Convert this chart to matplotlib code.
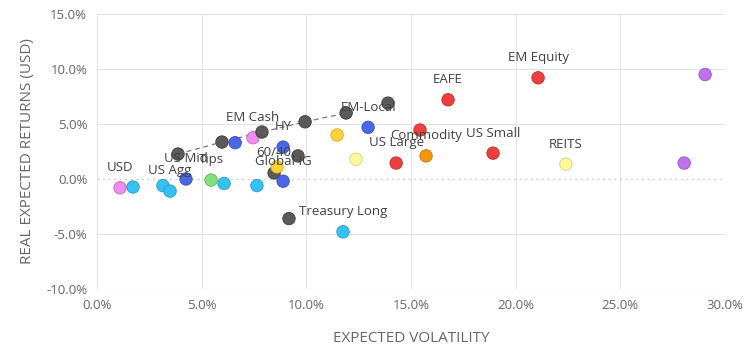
import matplotlib
matplotlib.use("Agg")
import matplotlib.pyplot as plt
from matplotlib.ticker import FuncFormatter

# ---- data (volatility %, real expected return %) ----
labels = ["USD", "", "", "US Agg", "US Mid", "", "Tips", "", "", "",
          "", "EM Cash", "", "HY", "60/40", "", "Global IG", "",
          "", "", "", "EM-Local", "", "", "US Large", "", "Treasury Long",
          "EAFE", "", "Commodity", "US Small", "EM Equity", "REITS", "", ""]
vol = [1.10, 1.72, 3.15, 3.49, 4.25, 3.87, 5.45, 6.07, 7.64, 5.97,
       6.60, 7.45, 7.88, 8.89, 8.46, 8.60, 8.89, 9.60,
       9.94, 11.90, 13.90, 12.95, 11.47, 12.37, 14.29, 9.17, 11.75,
       16.77, 15.43, 15.72, 18.92, 21.07, 22.40, 28.05, 29.05]
ret = [-0.80, -0.73, -0.60, -1.10, 0.00, 2.27, -0.10, -0.40, -0.60, 3.36,
       3.30, 3.75, 4.27, 2.90, 0.55, 1.10, -0.20, 2.10,
       5.20, 6.00, 6.90, 4.70, 4.00, 1.80, 1.45, -3.60, -4.80,
       7.20, 4.45, 2.10, 2.35, 9.20, 1.35, 1.45, 9.50]
groups = ["pink", "cyan", "cyan", "cyan", "blue", "dark", "green", "cyan", "cyan", "dark",
          "blue", "pink", "dark", "blue", "dark", "gold", "blue", "dark",
          "dark", "dark", "dark", "blue", "gold", "lightyellow", "red", "dark", "cyan",
          "red", "red", "orange", "red", "red", "lightyellow", "purple", "purple"]

# efficient frontier (dashed line)
frontier_vol = [3.87, 5.97, 7.88, 9.94, 11.90]
frontier_ret = [2.27, 3.36, 4.27, 5.20, 6.00]

x_ticks = [0, 5, 10, 15, 20, 25, 30]
y_ticks = [-10, -5, 0, 5, 10, 15]

colors = {
    "pink": ("#f28cf0", "#c46ac2"),
    "cyan": ("#35c1f1", "#2a9cc4"),
    "blue": ("#4c66e8", "#3a4fb8"),
    "dark": ("#5a5a5a", "#3c3c3c"),
    "green": ("#80e07a", "#5cb356"),
    "gold": ("#fdd23a", "#d2aa1e"),
    "lightyellow": ("#fbf99a", "#d6d47a"),
    "red": ("#ef3e3e", "#c22c2c"),
    "orange": ("#f5960f", "#c9770a"),
    "purple": ("#bf70ef", "#9a52c8"),
}

font = "Open Sans"
fig = plt.figure(figsize=(7.52, 3.51), dpi=100)
ax = fig.add_axes([97 / 752, 1 - 289 / 351, (725 - 97) / 752, (289 - 14) / 351])

ax.set_xlim(0, 30)
ax.set_ylim(-10, 15)
ax.set_xticks(x_ticks)
ax.set_yticks(y_ticks)
fmt = FuncFormatter(lambda v, p: f"{v:.1f}%")
ax.xaxis.set_major_formatter(fmt)
ax.yaxis.set_major_formatter(fmt)

for s in ax.spines.values():
    s.set_visible(False)
ax.tick_params(length=0, labelsize=9.5, labelcolor="#666666", pad=7)
for lab in ax.get_xticklabels() + ax.get_yticklabels():
    lab.set_fontfamily(font)

grid_c = "#e4e4e4"
for xv in x_ticks:
    ax.axvline(xv, color=grid_c, lw=0.8, zorder=0)
for yv in y_ticks:
    if yv == 0:
        ax.axhline(yv, color="#d0d0d0", lw=1.0, ls=(0, (1.5, 2.5)), zorder=0)
    else:
        ax.axhline(yv, color=grid_c, lw=0.8, zorder=0)

ax.plot(frontier_vol, frontier_ret, color="#7a7a7a", lw=0.9, ls=(0, (4, 3)), zorder=1)

fc = [colors[g][0] for g in groups]
ec = [colors[g][1] for g in groups]
ax.scatter(vol, ret, s=80, c=fc, edgecolors=ec, linewidths=0.6, zorder=3)

for v, r, t in zip(vol, ret, labels):
    if t:
        ax.annotate(t, (v, r), xytext=(0, 14.5), textcoords="offset points",
                    ha="center", va="center", fontsize=9.5, color="#404040",
                    family=font, zorder=4)

ax.set_xlabel("EXPECTED VOLATILITY", fontsize=11, color="#666666", family=font, labelpad=14)
ax.set_ylabel("REAL EXPECTED RETURNS (USD)", fontsize=11, color="#666666", family=font, labelpad=8)

fig.savefig("out.png", dpi=100)
